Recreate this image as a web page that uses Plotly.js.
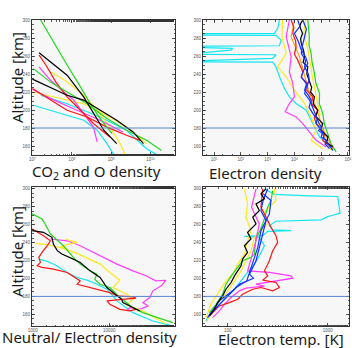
<!DOCTYPE html>
<html>
<head>
<meta charset="utf-8">
<script src="https://cdn.plot.ly/plotly-3.0.1.min.js"></script>
<style>html,body{margin:0;padding:0;background:#fff;}#chart{width:352px;height:348px;}</style>
</head>
<body>
<div id="chart"></div>
<script>
// ---------- Panel 1: CO2 and O density (cm^-3) ----------
const p1GreenO_alt = [300, 274, 250, 225.7, 207, 190.5, 173.7];
const p1GreenO     = [1.62e7, 3.55e7, 7.6e7, 1.66e8, 2.95e8, 5.25e8, 1.05e9];
const p1GreenC_alt = [246, 231, 220, 207, 190.5, 177.5, 166.3, 155];
const p1GreenC     = [1.05e7, 2.9e7, 7.6e7, 2.45e8, 7.8e8, 2.45e9, 7.9e9, 1.9e10];
const p1BlackO_alt = [263.6, 253.6, 238.7, 214.6, 196, 177.5, 162.6];
const p1BlackO     = [1.48e7, 2.9e7, 7.6e7, 2.0e8, 3.55e8, 6.5e8, 1.38e9];
const p1BlackC_alt = [234.3, 225, 216.4, 211, 199.7, 188.6, 175.6, 162.6];
const p1BlackC     = [1.0e7, 2.9e7, 7.6e7, 2.0e8, 5.25e8, 1.38e9, 3.6e9, 6.6e9];
const p1RedO_alt   = [261, 250, 231.3, 214.6, 199.7, 185, 170];
const p1RedO       = [1.48e7, 2.2e7, 3.9e7, 7.6e7, 1.66e8, 3.55e8, 9.3e8];
const p1RedC_alt   = [223.9, 211, 199.7, 192.3, 181, 172, 166.3];
const p1RedC       = [1.0e7, 2.9e7, 7.6e7, 2.45e8, 7.8e8, 2.45e9, 5.4e9];
const p1MagO_alt   = [248, 233, 220, 211, 196, 181, 164.5];
const p1MagO       = [1.48e7, 2.9e7, 6.3e7, 1.12e8, 2.0e8, 3.55e8, 4.4e8];
const p1MagC_alt   = [222.8, 211, 199.7, 188.6, 175.6];
const p1MagC       = [1.0e7, 3.55e7, 1.35e8, 5.25e8, 2.0e9];
const p1YelA_alt   = [242.4, 231.3, 216.4, 199.7, 181, 162.6, 150.7];
const p1YelA       = [2.9e7, 7.6e7, 2.0e8, 4.4e8, 9.3e8, 1.7e9, 2.24e9];
const p1YelB_alt   = [220, 212.7, 207, 194, 181, 162.6];
const p1YelB       = [1.0e7, 5.1e7, 2.0e8, 7.8e8, 2.45e9, 7.9e9];
const p1CyanA_alt  = [205.3, 199.7, 194.2, 188.6, 177.5, 162.6, 150.7];
const p1CyanA      = [1.05e7, 2.9e7, 7.6e7, 2.0e8, 4.4e8, 7.8e8, 1.15e9];
const p1CyanB_alt  = [216.4, 207, 192.3, 177.5, 157, 150.7];
const p1CyanB      = [1.62e7, 7.6e7, 5.25e8, 2.45e9, 7.9e9, 1.4e10];

// ---------- Panel 2: Electron density (cm^-3) ----------
const p2Cyan_alt = [300, 290.7, 285.1, 284.8, 283.3, 283, 277.7, 271.4, 271, 269.6, 268.4, 266.6, 262.9, 261.8, 261.4, 257.3, 254.7, 253.6, 253.2, 248, 236.9, 223.9, 214.6, 207.2, 199.7, 184.9, 170, 155.2];
const p2Cyan     = [2750, 2370, 1780, 2, 2, 2040, 3160, 2750, 2, 2, 49, 42, 2, 2, 2040, 1550, 2, 2, 1550, 2040, 2750, 4220, 6460, 1.15e4, 2.75e4, 4.9e4, 8.7e4, 2.75e5];
const p2Green_alt = [300, 290, 281.4, 272, 262.9, 252, 240.6, 230, 218.3, 207, 196, 185, 173.7, 163, 153.3];
const p2Green     = [3.16e4, 3.3e4, 3.6e4, 3.5e4, 4.2e4, 4.6e4, 5.6e4, 6.3e4, 8.7e4, 8.5e4, 1.15e5, 1.3e5, 1.8e5, 2.3e5, 3.6e5];
const p2Black_alt = [300, 296, 292.6, 285, 279, 274, 266, 259.2, 253, 248, 240, 233.2, 225, 220, 214.6, 207, 199.7, 193, 184.9, 178, 170, 164, 158.9];
const p2Black     = [2.05e4, 1.7e4, 1.6e4, 2.0e4, 1.7e4, 1.8e4, 2.2e4, 2.4e4, 2.1e4, 3.16e4, 2.9e4, 3.6e4, 4.4e4, 4.0e4, 5.6e4, 5.0e4, 7.5e4, 6.3e4, 1.15e5, 9.5e4, 1.8e5, 1.6e5, 2.75e5];
const p2Red_alt = [300, 292, 285.1, 277, 270.3, 262, 255.4, 248, 242.4, 236, 229.4, 222, 214.6, 207, 199.7, 192, 184.9, 180, 173.7, 166, 158.9];
const p2Red     = [7500, 9500, 8700, 1.1e4, 1.15e4, 1.0e4, 1.33e4, 1.7e4, 2.05e4, 1.8e4, 3.16e4, 2.9e4, 4.9e4, 4.2e4, 7.5e4, 5.5e4, 6.5e4, 9.0e4, 1.33e5, 1.15e5, 2.37e5];
const p2BlueA_alt = [300, 293, 285.1, 276, 266.6, 259, 251.7, 244, 236.9, 229, 222, 216, 210.9, 203, 196, 190, 184.9, 180, 175.6, 170, 166.3, 162, 157];
const p2BlueA     = [1.33e4, 1.6e4, 1.0e4, 1.4e4, 1.8e4, 2.6e4, 3.16e4, 2.2e4, 1.8e4, 2.8e4, 2.4e4, 3.4e4, 4.2e4, 3.5e4, 4.9e4, 7.0e4, 6.5e4, 8.5e4, 1.15e5, 1.0e5, 1.55e5, 1.4e5, 2.05e5];
const p2BlueB_alt = [300, 290, 281.4, 272, 262.9, 255, 248, 240, 233.2, 226, 218.3, 212, 207.2, 200, 192.3, 186, 181.2, 177, 173.7, 168, 162.6, 155.2];
const p2BlueB     = [2.05e4, 2.8e4, 2.4e4, 2.0e4, 1.8e4, 2.6e4, 2.4e4, 3.3e4, 3.6e4, 2.8e4, 2.4e4, 3.5e4, 4.2e4, 5.2e4, 6.5e4, 8.0e4, 1.0e5, 8.0e4, 1.15e5, 1.3e5, 1.8e5, 2.75e5];
const p2YelA_alt = [300, 281.4, 262.9, 248, 236.9, 222, 207.2, 192.3, 177.5, 166.3, 157];
const p2YelA     = [3600, 3400, 4900, 2370, 4900, 1.0e4, 2.4e4, 4.2e4, 6.5e4, 4.2e4, 1.15e5];
const p2YelB_alt = [300, 285, 270, 255, 240, 225, 210, 195, 185, 175, 165, 155];
const p2YelB     = [2.6e4, 2.2e4, 3.0e4, 3.8e4, 4.5e4, 5.5e4, 7.0e4, 9.0e4, 7.5e4, 1.3e5, 1.6e5, 2.4e5];
const p2Mag_alt = [300, 281.4, 259.2, 242.4, 229.4, 214.6, 207.2, 198, 192.3, 184.9, 175.6, 166.3, 158.9];
const p2Mag     = [6460, 4900, 7500, 6460, 8700, 1.0e4, 6460, 4500, 1.15e4, 2.05e4, 3.6e4, 6.5e4, 1.55e5];
const p2Ora_alt = [300, 281.4, 259.2, 236.9, 218.3, 203.4, 184.9, 170, 157];
const p2Ora     = [1.0e4, 7500, 1.55e4, 2.4e4, 3.6e4, 6.5e4, 1.0e5, 1.55e5, 2.75e5];

// ---------- Panel 3: Neutral / Electron density ----------
const p3Green_alt = [272, 266.4, 260.8, 249.6, 236.5, 231, 223.5, 216, 208.5, 204.8, 199.2, 193.6, 189.9, 178.7, 167.5, 161.9, 154.4, 150.7];
const p3Green     = [980, 1320, 1450, 1700, 2510, 2820, 3390, 4170, 5620, 6920, 6460, 7590, 1.02e4, 1.38e4, 2.04e4, 2.75e4, 5.0e4, 6.76e4];
const p3Black_alt = [253.3, 251.5, 245.9, 238.4, 231, 227.2, 221.6, 217.9, 208.5, 201.1, 189.9, 184.3, 176.8, 173.1, 167.5, 163.8];
const p3Black     = [980, 1380, 1780, 1860, 2090, 2400, 3390, 4170, 5620, 7590, 9330, 1.12e4, 1.45e4, 1.51e4, 2.04e4, 2.51e4];
const p3Red_alt = [255.2, 247.7, 242, 236.5, 229, 223.5, 217.9, 214.1, 212.3, 210.4, 206.7, 197.3, 193.6, 188, 184.3, 180.6, 179.4, 178, 175, 171.2, 165.6, 163.8, 165.6];
const p3Red     = [980, 1380, 1700, 1550, 1320, 1200, 1260, 1140, 1320, 1860, 2820, 4170, 3800, 6920, 1.02e4, 1.26e4, 2.04e4, 2.24e4, 9330, 1.02e4, 1.38e4, 1.86e4, 2.24e4];
const p3YelA_alt = [244, 240.3, 237.7, 234.7, 228, 216, 206.7, 198.1, 189.9, 182.4, 176.8, 170.5, 163.8, 156.3, 149.6];
const p3YelA     = [2630, 3800, 2820, 2290, 3800, 7590, 1.02e4, 1.38e4, 1.12e4, 1.7e4, 2.04e4, 1.7e4, 2.75e4, 4.07e4, 5.5e4];
const p3YelB_alt = [239.2, 237.7, 235.4, 233.2];
const p3YelB     = [1080, 1550, 1950, 2820];
const p3Mag_alt = [244, 242, 236.5, 227.2, 216, 208.5, 203, 197.3, 198, 191.8, 186.2, 178.7, 173.1, 169.4, 165.6, 167.5, 163.8];
const p3Mag     = [1700, 2820, 4170, 6920, 1.26e4, 2.04e4, 3.02e4, 4.07e4, 5.5e4, 4.79e4, 3.72e4, 3.39e4, 2.75e4, 3.24e4, 2.51e4, 1.86e4, 1.7e4];
const p3Cyan_alt = [221.6, 219, 215.3, 206.7, 201.1, 198.1, 193.6, 188, 175, 161.9, 152.6, 148];
const p3Cyan     = [1200, 1550, 1950, 2820, 3800, 5130, 6920, 9330, 1.26e4, 2.04e4, 3.72e4, 6.17e4];

// ---------- Panel 4: Electron temperature (K) ----------
const p4Cyan_alt = [300, 293.7, 292.2, 291.4, 283.2, 272.8, 270.5, 269, 265.3, 263.8, 259, 254.1, 253.3, 252.6, 247.7, 247, 245.9, 236.5, 225.3, 216, 206.7, 197.3, 188, 178.7, 169.4, 160, 152.6];
const p4Cyan     = [233, 293, 656, 1259, 1290, 1330, 1122, 1000, 858, 304, 261, 282, 430, 251, 224, 147, 207, 233, 207, 185, 158, 136, 117, 96, 79, 65.6, 60.7];
const p4Red_alt = [300, 279.5, 268.3, 257.1, 247.7, 240.3, 230.9, 219.7, 208.5, 202.9, 198.1, 195.5, 189.9, 186.2, 189.9, 188, 182.4, 176.8, 173.1, 169.4, 163.8, 158.2];
const p4Red     = [224, 215, 242, 271, 304, 316, 282, 261, 233, 251, 224, 304, 329, 282, 215, 178, 141, 126, 104, 82.5, 73.6, 65.6];
const p4Mag_alt = [300, 279.5, 260.8, 242.1, 223.5, 208.5, 206.7, 202.9, 200.3, 197.3, 193.6, 191.4, 189.2, 186.2, 178.7, 171.2, 163.8, 156.3];
const p4Mag     = [192, 173, 207, 192, 173, 158, 261, 430, 447, 304, 192, 233, 152, 131, 108, 92.6, 82.5, 70.8];
const p4Black_alt = [300, 294.4, 288.8, 283.2, 275.7, 268.3, 260.8, 251.5, 244, 236.5, 229, 221.6, 214.1, 208.5, 202.9, 195.5, 188, 180.6, 173.1, 165.6, 158.2];
const p4Black     = [242, 215, 233, 192, 207, 178, 192, 158, 171, 147, 158, 141, 136, 126, 117, 108, 96, 89, 79.4, 73.6, 65.6];
const p4Green_alt = [298.1, 286.9, 279.5, 260.8, 251.5, 245.9, 227.2, 223.5, 219.7, 210.4, 204.8, 193.6, 182.4, 171.2, 161.9];
const p4Green     = [282, 271, 251, 224, 207, 192, 185, 171, 141, 121, 112, 96, 89, 76.5, 65.6];
const p4YelA_alt = [300, 286.9, 273.9, 260.8, 245.9, 230.9, 219.7, 208.5, 197.3, 186.2, 175, 163.8, 152.6];
const p4YelA     = [293, 304, 233, 251, 185, 171, 152, 136, 117, 100, 82.5, 70.8, 61.8];
const p4YelB_alt = [300, 283.2, 268.3, 253.3, 242.1, 227.2, 216, 204.8, 197.3, 186.2, 171.2, 156.3];
const p4YelB     = [147, 158, 152, 171, 158, 147, 126, 112, 96, 82.5, 68, 60.7];
const p4BlueA_alt = [300, 286.9, 275.7, 264.5, 249.6, 234.7, 219.7, 204.8, 200.3, 193.6, 186.2, 175, 163.8, 156.3];
const p4BlueA     = [251, 226, 215, 242, 224, 207, 192, 165, 181, 131, 112, 82.5, 70.8, 63];
const p4BlueB_alt = [294.4, 286.9, 272, 253.3, 234.7, 212.3, 197.3, 189.9, 178.7, 167.5, 159.3];
const p4BlueB     = [226, 271, 261, 215, 200, 171, 155, 121, 96, 76.5, 65.6];

// ---------- ticks ----------
const altTicks = [160, 180, 200, 220, 240, 260, 280, 300];
const p1Ticks = [1e7, 1e8, 1e9, 1e10];
const p1TickText = ['10<sup>7</sup>', '10<sup>8</sup>', '10<sup>9</sup>', '10<sup>10</sup>'];
const p2Ticks = [1e1, 1e2, 1e3, 1e4, 1e5, 1e6];
const p2TickText = ['10<sup>1</sup>', '10<sup>2</sup>', '10<sup>3</sup>', '10<sup>4</sup>', '10<sup>5</sup>', '10<sup>6</sup>'];
const p3Ticks = [1000, 10000];
const p3TickText = ['1000', '10000'];
const p4Ticks = [100, 1000];
const p4TickText = ['100', '1000'];
const refAltitude = 180;

const C = {green:'#1ed81e', black:'#000000', red:'#ff1414', yellow:'#ffe81a', mag:'#ff3cff', cyan:'#14e6f0', blue:'#1432ff', orange:'#ffa020'};

const traces = [];
function add(x, y, color, n) {
  traces.push({x: x, y: y, type: 'scatter', mode: 'lines', line: {color: color, width: 1.2},
    xaxis: n === 1 ? 'x' : 'x' + n, yaxis: n === 1 ? 'y' : 'y' + n, hoverinfo: 'skip', showlegend: false});
}
add(p1CyanB, p1CyanB_alt, C.cyan, 1);
add(p1CyanA, p1CyanA_alt, C.cyan, 1);
add(p1YelB, p1YelB_alt, C.yellow, 1);
add(p1YelA, p1YelA_alt, C.yellow, 1);
add(p1MagC, p1MagC_alt, C.mag, 1);
add(p1MagO, p1MagO_alt, C.mag, 1);
add(p1RedC, p1RedC_alt, C.red, 1);
add(p1RedO, p1RedO_alt, C.red, 1);
add(p1GreenC, p1GreenC_alt, C.green, 1);
add(p1GreenO, p1GreenO_alt, C.green, 1);
add(p1BlackC, p1BlackC_alt, C.black, 1);
add(p1BlackO, p1BlackO_alt, C.black, 1);

add(p2Cyan, p2Cyan_alt, C.cyan, 2);
add(p2YelA, p2YelA_alt, C.yellow, 2);
add(p2YelB, p2YelB_alt, C.yellow, 2);
add(p2Mag, p2Mag_alt, C.mag, 2);
add(p2Green, p2Green_alt, C.green, 2);
add(p2Ora, p2Ora_alt, C.orange, 2);
add(p2Red, p2Red_alt, C.red, 2);
add(p2Black, p2Black_alt, C.black, 2);
add(p2BlueA, p2BlueA_alt, C.blue, 2);
add(p2BlueB, p2BlueB_alt, C.blue, 2);

add(p3Cyan, p3Cyan_alt, C.cyan, 3);
add(p3Mag, p3Mag_alt, C.mag, 3);
add(p3YelA, p3YelA_alt, C.yellow, 3);
add(p3YelB, p3YelB_alt, C.yellow, 3);
add(p3Green, p3Green_alt, C.green, 3);
add(p3Red, p3Red_alt, C.red, 3);
add(p3Black, p3Black_alt, C.black, 3);

add(p4Cyan, p4Cyan_alt, C.cyan, 4);
add(p4YelA, p4YelA_alt, C.yellow, 4);
add(p4YelB, p4YelB_alt, C.yellow, 4);
add(p4Green, p4Green_alt, C.green, 4);
add(p4Mag, p4Mag_alt, C.mag, 4);
add(p4Red, p4Red_alt, C.red, 4);
add(p4BlueA, p4BlueA_alt, C.blue, 4);
add(p4BlueB, p4BlueB_alt, C.blue, 4);
add(p4Black, p4Black_alt, C.black, 4);

const W = 352, H = 348;
function dx(a, b) { return [a / W, b / W]; }
function dy(top, bottom) { return [1 - bottom / H, 1 - top / H]; }

function xa(domain, range, tv, tt, anchor) {
  return {type: 'log', domain: domain, range: range, anchor: anchor, tickvals: tv, ticktext: tt,
    ticks: 'inside', ticklen: 3, tickwidth: 0.8, tickcolor: '#333', showline: true, linecolor: '#333', linewidth: 1,
    mirror: 'allticks', showgrid: false, zeroline: false, tickfont: {size: 4.5, color: '#555', family: 'Liberation Sans'},
    ticklabelstandoff: 0, minor: {ticks: 'inside', ticklen: 1.5, tickcolor: '#333', showgrid: false}};
}
function ya(domain, range, anchor) {
  return {domain: domain, range: range, anchor: anchor, tickvals: altTicks, ticks: 'inside', ticklen: 3, tickwidth: 0.8,
    tickcolor: '#333', showline: true, linecolor: '#333', linewidth: 1, mirror: 'allticks', showgrid: false, zeroline: false,
    tickfont: {size: 4.5, color: '#555', family: 'Liberation Sans'}, ticklabelstandoff: 0,
    minor: {ticks: 'inside', ticklen: 1.5, dtick: 5, tickcolor: '#333', showgrid: false}};
}

const layout = {
  width: W, height: H, margin: {l: 0, r: 0, t: 0, b: 0},
  paper_bgcolor: '#ffffff', plot_bgcolor: '#f7f7f7', showlegend: false,
  xaxis:  xa(dx(32, 175), [6.99, 10.62], p1Ticks, p1TickText, 'y'),
  yaxis:  ya(dy(20, 155), [150, 300], 'x'),
  xaxis2: xa(dx(203, 349), [0.58, 6.04], p2Ticks, p2TickText, 'y2'),
  yaxis2: ya(dy(20, 155), [150, 300], 'x2'),
  xaxis3: xa(dx(32, 175), [2.99, 4.86], p3Ticks, p3TickText, 'y3'),
  yaxis3: ya(dy(187, 326), [147, 302], 'x3'),
  xaxis4: xa(dx(203, 349), [1.753, 3.213], p4Ticks, p4TickText, 'y4'),
  yaxis4: ya(dy(187, 326), [147, 302], 'x4'),
  shapes: [1, 2, 3, 4].map(n => ({type: 'line', xref: (n === 1 ? 'x' : 'x' + n) + ' domain', x0: 0, x1: 1,
    yref: n === 1 ? 'y' : 'y' + n, y0: refAltitude, y1: refAltitude, line: {color: '#5a86cc', width: 1}})),
  annotations: [
    {text: 'Altitude [km]', x: 17 / W, y: 1 - 78 / H, textangle: -90},
    {text: 'Altitude [km]', x: 17 / W, y: 1 - 252 / H, textangle: -90},
    {text: 'CO<sub>2</sub> and O density', x: 96 / W, y: 1 - 172 / H},
    {text: 'Electron density', x: 265.5 / W, y: 1 - 172.5 / H},
    {text: 'Neutral/ Electron density', x: 89 / W, y: 1 - 337 / H},
    {text: 'Electron temp. [K]', x: 281 / W, y: 1 - 339 / H}
  ].map(a => Object.assign({xref: 'paper', yref: 'paper', showarrow: false, xanchor: 'center', yanchor: 'middle',
    font: {family: 'Noto Sans', size: 15, color: '#1a1a1a'}}, a))
};

Plotly.newPlot('chart', traces, layout, {staticPlot: true, displayModeBar: false});
</script>
</body>
</html>
